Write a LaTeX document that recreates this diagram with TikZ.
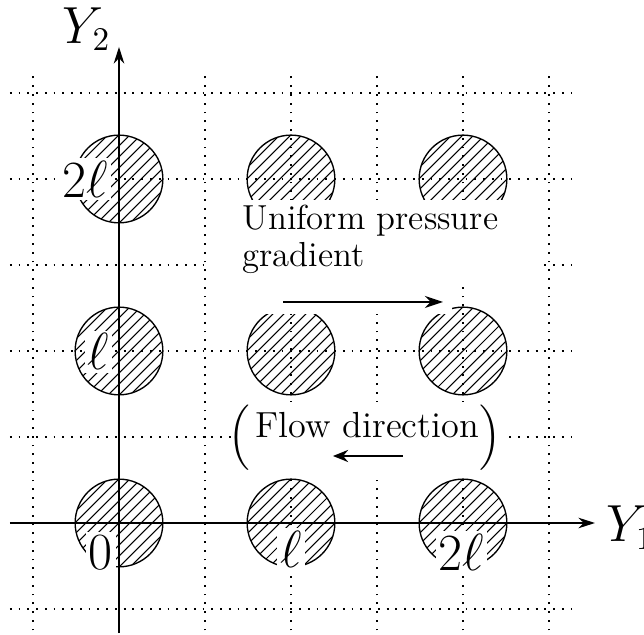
\documentclass[tikz,border=0pt]{standalone}
\usepackage{amsmath}
\usetikzlibrary{arrows.meta}
\begin{document}
\begin{tikzpicture}[x=1cm,y=1cm,
  hatchcircle/.style={circle, draw, line width=0.45pt, minimum size=1.02cm, inner sep=0pt,
    path picture={\foreach \k in {-6,...,6}{\draw[line width=0.35pt] ([shift={(\k*0.128-0.6,-0.6)}]path picture bounding box.center) -- ++(1.2,1.2);}}},
  gridline/.style={line width=0.5pt, dash pattern=on 0.6pt off 2.3pt},
  lbl/.style={fill=white, inner sep=1pt, font=\fontsize{16}{19}\selectfont},
  txt/.style={inner sep=0pt, font=\fontsize{11.5}{12}\selectfont},
  paren/.style={inner sep=0pt, font=\fontsize{12}{14}\selectfont},
  axis/.style={line width=0.5pt, -{Stealth[length=5.5pt,width=3.5pt]}},
  flowarrow/.style={line width=0.7pt, -{Stealth[length=5pt,width=4pt]}},
]
\useasboundingbox (-1.3837,-1.3023) rectangle (6.1047,6.0814);

% hatched circles
\foreach \i in {0,1,2}{
  \foreach \j in {0,1,2}{
    \node[hatchcircle] (c\i\j) at (2*\i,2*\j) {};
  }
}

% dotted grid
\foreach \v in {-1,...,5}{
  \draw[gridline] (\v,-1.25) -- (\v,5.27);
  \draw[gridline] (-1.27,\v) -- (5.27,\v);
}

% white backgrounds of the annotations
\fill[white] (1.035,2.791) rectangle (4.884,3.756);
\fill[white] (1.547,2.430) rectangle (3.872,2.767);
\fill[white] (1.360,0.547) rectangle (4.465,1.407);

% annotations
\node[txt, anchor=base west] (uni1) at (1.430,3.407) {Uniform pressure};
\node[txt, anchor=base west] (uni2) at (1.430,2.988) {gradient};
\coordinate (ga1) at (1.907,2.570);
\coordinate (ga2) at (3.767,2.570);
\draw[line width=0.7pt, -{Stealth[length=6pt,width=4pt]}] (ga1) -- (ga2);

\node[txt, font=\fontsize{12}{14}\selectfont, anchor=base] (flow) at (2.885,0.992) {Flow direction};
\node[paren] (lpar) at (1.395,0.994) {$\Big($};
\node[paren] (rpar) at (4.32,0.994) {$\Big)$};
\coordinate (fa1) at (3.302,0.779);
\coordinate (fa2) at (2.488,0.779);
\draw[flowarrow] (fa1) -- (fa2);

% position labels
\node[lbl] (l2top) at (-0.395,4.0) {$2\ell$};
\node[lbl] (l1mid) at (-0.24,1.99) {$\ell$};
\node[lbl] (l0) at (-0.21,-0.34) {$0$};
\node[lbl] (l1bot) at (2.0,-0.31) {$\ell$};
\node[lbl] (l2bot) at (3.98,-0.34) {$2\ell$};

% axes
\coordinate (xa) at (-1.267,0);
\coordinate (xb) at (5.535,0);
\coordinate (ya) at (0,-1.28);
\coordinate (yb) at (0,5.535);
\draw[axis] (xa) -- (xb);
\draw[axis] (ya) -- (yb);
\node[font=\fontsize{16}{19}\selectfont, inner sep=0pt, anchor=base west] (Y1) at (5.66,-0.221) {$Y_1$};
\node[font=\fontsize{16}{19}\selectfont, inner sep=0pt, anchor=base west] (Y2) at (-0.66,5.581) {$Y_2$};
\end{tikzpicture}
\end{document}
